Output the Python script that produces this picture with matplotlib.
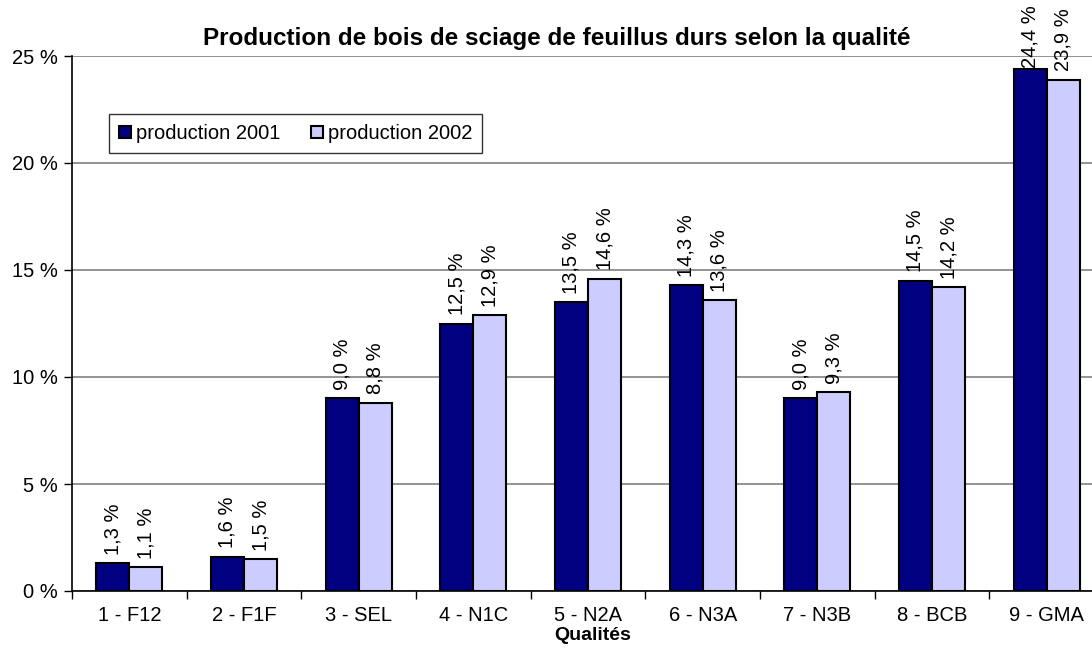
import matplotlib.pyplot as plt
import numpy as np

plt.rcParams['font.family'] = ['Liberation Sans', 'DejaVu Sans']

categories = ['1 - F12', '2 - F1F', '3 - SEL', '4 - N1C', '5 - N2A',
              '6 - N3A', '7 - N3B', '8 - BCB', '9 - GMA']
prod_2001 = [1.3, 1.6, 9.0, 12.5, 13.5, 14.3, 9.0, 14.5, 24.4]
prod_2002 = [1.1, 1.5, 8.8, 12.9, 14.6, 13.6, 9.3, 14.2, 23.9]

fig = plt.figure(figsize=(10.92, 6.53), dpi=100)
ax = fig.add_axes([72 / 1092, 62 / 653, 1032 / 1092, 535 / 653])

x = np.arange(len(categories))
w = 0.288
b1 = ax.bar(x - w / 2, prod_2001, w, color='#000080', edgecolor='black',
            linewidth=1.5, label='production 2001', zorder=3)
b2 = ax.bar(x + w / 2, prod_2002, w, color='#CCCCFF', edgecolor='black',
            linewidth=1.5, label='production 2002', zorder=3)

labels = []
for bars, vals in [(b1, prod_2001), (b2, prod_2002)]:
    for r, v in zip(bars, vals):
        t = ax.annotate(f'{v:.1f} %'.replace('.', ','),
                        (r.get_x() + r.get_width() / 2, v),
                        xytext=(0, 6), textcoords='offset points',
                        rotation=90, ha='center', va='bottom', fontsize=14.5,
                        annotation_clip=False, zorder=4)
        labels.append(t)

ax.set_xlim(-0.5, len(categories) - 0.5)
ax.set_ylim(0, 25)
ax.set_yticks([0, 5, 10, 15, 20, 25])
ax.set_yticklabels([f'{t} %' for t in [0, 5, 10, 15, 20, 25]], fontsize=14.5)
ax.set_xticks(x)
ax.set_xticklabels(categories, fontsize=14.5)
ax.set_xticks(np.arange(len(categories) + 1) - 0.5, minor=True)
ax.tick_params(axis='x', which='major', length=0, pad=11)
ax.tick_params(axis='x', which='minor', length=6, width=1, direction='out')
ax.tick_params(axis='y', length=6, width=1, direction='out', pad=4)

ax.yaxis.grid(True, color='#808080', linewidth=1.2, zorder=0)
ax.set_axisbelow(True)
for s in ['top', 'right']:
    ax.spines[s].set_visible(False)
ax.spines['left'].set_linewidth(1.2)
ax.spines['bottom'].set_linewidth(1.2)

ax.set_xlabel('Qualités', fontsize=14, fontweight='bold')
ax.xaxis.set_label_coords((593 - 72) / 1032, -36 / 535)

fig.text(557 / 1092, 1 - 38 / 653,
         'Production de bois de sciage de feuillus durs selon la qualité',
         ha='center', va='center', fontsize=17.5, fontweight='bold')

leg = ax.legend(loc='upper left', bbox_to_anchor=(37 / 1032, 1 - 58 / 535),
                ncol=2, fontsize=14.5, frameon=True, fancybox=False,
                edgecolor='black', handlelength=0.6, handleheight=0.6,
                handletextpad=0.25, columnspacing=1.5, borderpad=0.5,
                borderaxespad=0)
leg.get_frame().set_linewidth(1.0)

# pull labels that would run off the top back inside, like Excel does
fig.canvas.draw()
r = fig.canvas.get_renderer()
top = fig.bbox.height - 5
for t in labels:
    bb = t.get_window_extent(r)
    if bb.y1 > top:
        dx, dy = t.xyann
        t.xyann = (dx, dy - (bb.y1 - top) * 72 / fig.dpi)

fig.savefig('out.png', dpi=100)
